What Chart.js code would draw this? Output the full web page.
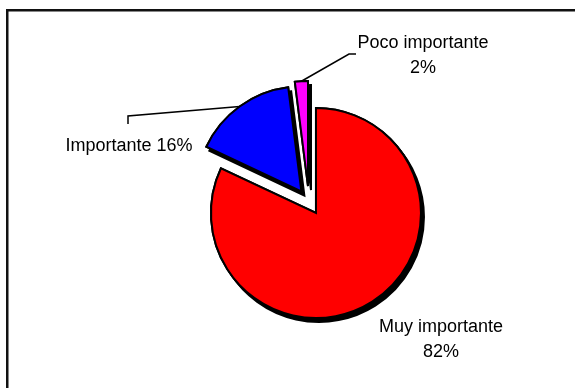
<!DOCTYPE html>
<html>
<head>
<meta charset="utf-8">
<script src="https://cdn.jsdelivr.net/npm/chart.js@4.4.1/dist/chart.umd.min.js"></script>
<style>
  html, body { margin: 0; padding: 0; background: #fff; }
  #wrap { position: relative; width: 575px; height: 388px; }
</style>
</head>
<body>
<div id="wrap"><canvas id="chart" width="575" height="388"></canvas></div>
<script>
// datos del gráfico
const categories = ['Muy importante', 'Importante', 'Poco importante'];
const values = [82, 16, 2];
const sliceColors = ['#ff0000', '#0000ff', '#ff00ff'];
const explode = [13, 13, 16]; // px que se separa cada porción

const RADIUS = 105;
const FONT = '18px "Liberation Sans", Arial, sans-serif';

// marco (solo borde superior e izquierdo, como en la imagen)
const framePlugin = {
    id: 'frame',
    beforeDraw(chart) {
        const c = chart.ctx;
        c.save();
        c.strokeStyle = '#111';
        c.lineWidth = 2.5;
        c.beginPath();
        c.moveTo(7.25, 388);
        c.lineTo(7.25, 10.25);
        c.lineTo(575, 10.25);
        c.stroke();
        c.restore();
    }
};

// separar las porciones moviendo su centro a lo largo del ángulo medio
const explodePlugin = {
    id: 'explode',
    afterDatasetsUpdate(chart) {
        chart.getDatasetMeta(0).data.forEach((arc, i) => {
            const mid = (arc.startAngle + arc.endAngle) / 2;
            arc.x += Math.cos(mid) * explode[i];
            arc.y += Math.sin(mid) * explode[i];
            arc.outerRadius = RADIUS;
        });
    }
};

// sombra negra tipo Excel: primera pasada solo para la sombra
const shadowPlugin = {
    id: 'shadow',
    beforeDatasetsDraw(chart) {
        const c = chart.ctx;
        c.save();
        c.shadowColor = '#000';
        c.shadowOffsetX = 3;
        c.shadowOffsetY = 4;
        c.shadowBlur = 0;
        chart.getDatasetMeta(0).data.forEach(arc => arc.draw(c));
        c.restore();
    }
};

// etiquetas con líneas guía
const labelLayout = [
    { twoLines: true, x: 441, y: 332, leader: null },
    { twoLines: false, x: 129, y: 151, leader: [[128, 116], [128, 124]] },
    { twoLines: true, x: 423, y: 48, leader: [[349, 54], [356, 54]] }
];

const labelPlugin = {
    id: 'pieLabels',
    afterDraw(chart) {
        const c = chart.ctx;
        const total = values.reduce((a, b) => a + b, 0);
        const arcs = chart.getDatasetMeta(0).data;
        c.save();
        c.font = FONT;
        c.fillStyle = '#000';
        c.strokeStyle = '#000';
        c.lineWidth = 1.5;
        c.textAlign = 'center';
        c.textBaseline = 'alphabetic';
        arcs.forEach((arc, i) => {
            const lay = labelLayout[i];
            const pct = Math.round(values[i] / total * 100) + '%';
            if (lay.leader) {
                const mid = (arc.startAngle + arc.endAngle) / 2;
                const sx = arc.x + Math.cos(mid) * RADIUS;
                const sy = arc.y + Math.sin(mid) * RADIUS;
                c.beginPath();
                c.moveTo(sx, sy);
                lay.leader.forEach(p => c.lineTo(p[0], p[1]));
                c.stroke();
            }
            if (lay.twoLines) {
                c.fillText(categories[i], lay.x, lay.y);
                c.fillText(pct, lay.x, lay.y + 25);
            } else {
                c.fillText(categories[i] + ' ' + pct, lay.x, lay.y);
            }
        });
        c.restore();
    }
};

const ctx = document.getElementById('chart').getContext('2d');
new Chart(ctx, {
    type: 'pie',
    data: {
        labels: categories,
        datasets: [{
            data: values,
            backgroundColor: sliceColors,
            borderColor: '#000',
            borderWidth: 2,
            borderJoinStyle: 'miter',
            radius: RADIUS
        }]
    },
    options: {
        responsive: false,
        animation: false,
        events: [],
        radius: RADIUS,
        layout: { padding: { left: 60, right: 17, top: 38, bottom: 22 } },
        plugins: {
            legend: { display: false },
            tooltip: { enabled: false }
        }
    },
    plugins: [framePlugin, explodePlugin, shadowPlugin, labelPlugin]
});
</script>
</body>
</html>
